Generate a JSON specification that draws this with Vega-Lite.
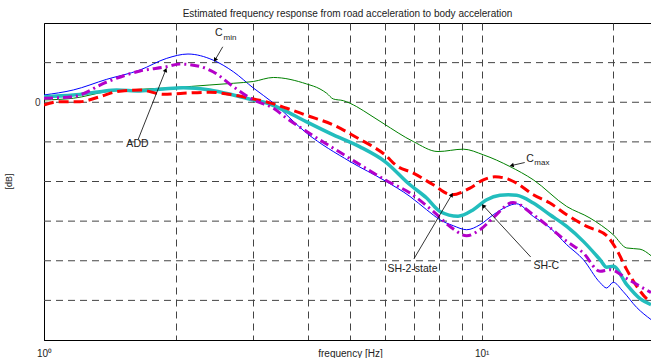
{
  "$schema": "https://vega.github.io/schema/vega-lite/v6.json",
  "width": 607,
  "height": 317,
  "autosize": {"type": "none"},
  "padding": {"left": 44, "top": 23, "right": 0, "bottom": 18},
  "background": "white",
  "config": {
    "view": {"stroke": "black", "strokeWidth": 1},
    "font": "Liberation Sans",
    "axis": {"labelFont": "Liberation Sans", "titleFont": "Liberation Sans"}
  },
  "title": {
    "text": "Estimated frequency response from road acceleration to body acceleration",
    "fontSize": 10,
    "fontWeight": "normal",
    "font": "Liberation Sans",
    "color": "#222222",
    "baseline": "bottom",
    "offset": 5,
    "dy": 11
  },
  "datasets": {
    "curves": [
      {"s": "Cmin", "f": 1.000, "db": 1.84},
      {"s": "Cmin", "f": 1.167, "db": 3.10},
      {"s": "Cmin", "f": 1.391, "db": 5.79},
      {"s": "Cmin", "f": 1.657, "db": 8.14},
      {"s": "Cmin", "f": 1.907, "db": 11.08},
      {"s": "Cmin", "f": 2.133, "db": 12.17},
      {"s": "Cmin", "f": 2.433, "db": 10.65},
      {"s": "Cmin", "f": 2.707, "db": 7.71},
      {"s": "Cmin", "f": 3.008, "db": 3.60},
      {"s": "Cmin", "f": 3.342, "db": -0.18},
      {"s": "Cmin", "f": 3.983, "db": -7.81},
      {"s": "Cmin", "f": 5.002, "db": -14.96},
      {"s": "Cmin", "f": 6.013, "db": -19.82},
      {"s": "Cmin", "f": 6.859, "db": -23.78},
      {"s": "Cmin", "f": 7.486, "db": -27.13},
      {"s": "Cmin", "f": 8.030, "db": -29.65},
      {"s": "Cmin", "f": 8.613, "db": -31.16},
      {"s": "Cmin", "f": 9.241, "db": -32.17},
      {"s": "Cmin", "f": 9.911, "db": -30.91},
      {"s": "Cmin", "f": 10.63, "db": -28.39},
      {"s": "Cmin", "f": 11.40, "db": -26.37},
      {"s": "Cmin", "f": 12.02, "db": -25.62},
      {"s": "Cmin", "f": 13.12, "db": -28.82},
      {"s": "Cmin", "f": 14.32, "db": -31.66},
      {"s": "Cmin", "f": 15.64, "db": -35.94},
      {"s": "Cmin", "f": 17.07, "db": -39.72},
      {"s": "Cmin", "f": 18.64, "db": -45.52},
      {"s": "Cmin", "f": 19.30, "db": -46.88},
      {"s": "Cmin", "f": 19.98, "db": -45.44},
      {"s": "Cmin", "f": 21.03, "db": -47.71},
      {"s": "Cmin", "f": 22.61, "db": -51.81},
      {"s": "Cmin", "f": 24.37, "db": -54.84},
      {"s": "Cmax", "f": 1.000, "db": 0.58},
      {"s": "Cmax", "f": 1.167, "db": 1.01},
      {"s": "Cmax", "f": 1.391, "db": 2.67},
      {"s": "Cmax", "f": 1.657, "db": 3.27},
      {"s": "Cmax", "f": 1.971, "db": 3.68},
      {"s": "Cmax", "f": 2.394, "db": 4.36},
      {"s": "Cmax", "f": 2.707, "db": 4.79},
      {"s": "Cmax", "f": 3.008, "db": 5.24},
      {"s": "Cmax", "f": 3.342, "db": 6.25},
      {"s": "Cmax", "f": 3.983, "db": 4.61},
      {"s": "Cmax", "f": 4.272, "db": 3.35},
      {"s": "Cmax", "f": 4.425, "db": 2.27},
      {"s": "Cmax", "f": 4.581, "db": 0.83},
      {"s": "Cmax", "f": 4.829, "db": 0.40},
      {"s": "Cmax", "f": 5.181, "db": -1.11},
      {"s": "Cmax", "f": 5.557, "db": -3.20},
      {"s": "Cmax", "f": 5.950, "db": -5.29},
      {"s": "Cmax", "f": 6.980, "db": -9.92},
      {"s": "Cmax", "f": 7.946, "db": -12.44},
      {"s": "Cmax", "f": 9.078, "db": -11.84},
      {"s": "Cmax", "f": 10.09, "db": -13.27},
      {"s": "Cmax", "f": 11.60, "db": -16.22},
      {"s": "Cmax", "f": 13.12, "db": -19.57},
      {"s": "Cmax", "f": 15.64, "db": -26.30},
      {"s": "Cmax", "f": 17.68, "db": -29.22},
      {"s": "Cmax", "f": 19.98, "db": -33.43},
      {"s": "Cmax", "f": 21.45, "db": -36.78},
      {"s": "Cmax", "f": 23.00, "db": -37.08},
      {"s": "Cmax", "f": 24.37, "db": -38.72},
      {"s": "SH-C", "f": 1.000, "db": 1.41},
      {"s": "SH-C", "f": 1.167, "db": 1.84},
      {"s": "SH-C", "f": 1.342, "db": 2.67},
      {"s": "SH-C", "f": 1.466, "db": 3.10},
      {"s": "SH-C", "f": 1.657, "db": 2.85},
      {"s": "SH-C", "f": 1.873, "db": 3.35},
      {"s": "SH-C", "f": 2.081, "db": 3.68},
      {"s": "SH-C", "f": 2.394, "db": 3.10},
      {"s": "SH-C", "f": 2.707, "db": 1.84},
      {"s": "SH-C", "f": 3.008, "db": 0.58},
      {"s": "SH-C", "f": 3.228, "db": -0.18},
      {"s": "SH-C", "f": 3.585, "db": -2.37},
      {"s": "SH-C", "f": 3.983, "db": -4.96},
      {"s": "SH-C", "f": 4.581, "db": -8.24},
      {"s": "SH-C", "f": 5.272, "db": -11.26},
      {"s": "SH-C", "f": 6.013, "db": -14.96},
      {"s": "SH-C", "f": 6.859, "db": -20.83},
      {"s": "SH-C", "f": 7.486, "db": -24.18},
      {"s": "SH-C", "f": 8.030, "db": -27.56},
      {"s": "SH-C", "f": 8.830, "db": -28.77},
      {"s": "SH-C", "f": 9.568, "db": -27.13},
      {"s": "SH-C", "f": 10.27, "db": -24.61},
      {"s": "SH-C", "f": 11.01, "db": -23.48},
      {"s": "SH-C", "f": 11.50, "db": -23.35},
      {"s": "SH-C", "f": 12.02, "db": -23.48},
      {"s": "SH-C", "f": 13.12, "db": -25.44},
      {"s": "SH-C", "f": 14.32, "db": -28.39},
      {"s": "SH-C", "f": 15.64, "db": -31.34},
      {"s": "SH-C", "f": 17.07, "db": -35.11},
      {"s": "SH-C", "f": 18.64, "db": -39.72},
      {"s": "SH-C", "f": 19.30, "db": -41.61},
      {"s": "SH-C", "f": 19.98, "db": -41.41},
      {"s": "SH-C", "f": 21.45, "db": -46.02},
      {"s": "SH-C", "f": 23.00, "db": -49.55},
      {"s": "SH-C", "f": 24.37, "db": -51.06},
      {"s": "SH-2-state", "f": 1.000, "db": -0.68},
      {"s": "SH-2-state", "f": 1.088, "db": 0.15},
      {"s": "SH-2-state", "f": 1.208, "db": 0.15},
      {"s": "SH-2-state", "f": 1.342, "db": 1.41},
      {"s": "SH-2-state", "f": 1.466, "db": 2.67},
      {"s": "SH-2-state", "f": 1.657, "db": 3.10},
      {"s": "SH-2-state", "f": 1.873, "db": 2.02},
      {"s": "SH-2-state", "f": 2.081, "db": 2.27},
      {"s": "SH-2-state", "f": 2.394, "db": 2.52},
      {"s": "SH-2-state", "f": 2.707, "db": 1.84},
      {"s": "SH-2-state", "f": 3.008, "db": 0.83},
      {"s": "SH-2-state", "f": 3.228, "db": 0.08},
      {"s": "SH-2-state", "f": 3.585, "db": -1.51},
      {"s": "SH-2-state", "f": 3.983, "db": -3.32},
      {"s": "SH-2-state", "f": 4.581, "db": -5.72},
      {"s": "SH-2-state", "f": 5.272, "db": -9.37},
      {"s": "SH-2-state", "f": 5.557, "db": -10.76},
      {"s": "SH-2-state", "f": 6.013, "db": -13.27},
      {"s": "SH-2-state", "f": 6.395, "db": -16.05},
      {"s": "SH-2-state", "f": 6.980, "db": -17.88},
      {"s": "SH-2-state", "f": 7.751, "db": -20.83},
      {"s": "SH-2-state", "f": 8.542, "db": -23.35},
      {"s": "SH-2-state", "f": 9.403, "db": -21.66},
      {"s": "SH-2-state", "f": 10.09, "db": -19.57},
      {"s": "SH-2-state", "f": 10.72, "db": -18.82},
      {"s": "SH-2-state", "f": 11.60, "db": -19.57},
      {"s": "SH-2-state", "f": 12.02, "db": -20.40},
      {"s": "SH-2-state", "f": 13.12, "db": -23.35},
      {"s": "SH-2-state", "f": 14.32, "db": -25.44},
      {"s": "SH-2-state", "f": 15.64, "db": -28.39},
      {"s": "SH-2-state", "f": 17.38, "db": -31.34},
      {"s": "SH-2-state", "f": 19.30, "db": -33.68},
      {"s": "SH-2-state", "f": 20.34, "db": -37.20},
      {"s": "SH-2-state", "f": 21.45, "db": -42.24},
      {"s": "SH-2-state", "f": 22.61, "db": -46.45},
      {"s": "SH-2-state", "f": 23.82, "db": -49.55},
      {"s": "SH-2-state", "f": 24.37, "db": -50.30},
      {"s": "ADD", "f": 1.000, "db": 1.01},
      {"s": "ADD", "f": 1.167, "db": 1.41},
      {"s": "ADD", "f": 1.391, "db": 5.11},
      {"s": "ADD", "f": 1.657, "db": 7.88},
      {"s": "ADD", "f": 1.907, "db": 8.97},
      {"s": "ADD", "f": 2.045, "db": 9.65},
      {"s": "ADD", "f": 2.273, "db": 9.02},
      {"s": "ADD", "f": 2.433, "db": 7.71},
      {"s": "ADD", "f": 2.707, "db": 3.93},
      {"s": "ADD", "f": 3.008, "db": 0.58},
      {"s": "ADD", "f": 3.342, "db": -1.51},
      {"s": "ADD", "f": 3.585, "db": -4.03},
      {"s": "ADD", "f": 3.983, "db": -7.41},
      {"s": "ADD", "f": 4.581, "db": -11.59},
      {"s": "ADD", "f": 5.461, "db": -16.80},
      {"s": "ADD", "f": 6.013, "db": -19.57},
      {"s": "ADD", "f": 6.859, "db": -22.92},
      {"s": "ADD", "f": 7.751, "db": -27.56},
      {"s": "ADD", "f": 8.465, "db": -31.34},
      {"s": "ADD", "f": 9.241, "db": -33.68},
      {"s": "ADD", "f": 9.911, "db": -32.17},
      {"s": "ADD", "f": 10.63, "db": -29.14},
      {"s": "ADD", "f": 11.79, "db": -25.29},
      {"s": "ADD", "f": 13.12, "db": -28.39},
      {"s": "ADD", "f": 14.32, "db": -31.66},
      {"s": "ADD", "f": 15.64, "db": -35.11},
      {"s": "ADD", "f": 17.07, "db": -38.04},
      {"s": "ADD", "f": 18.64, "db": -42.67},
      {"s": "ADD", "f": 19.64, "db": -42.24},
      {"s": "ADD", "f": 21.45, "db": -44.50},
      {"s": "ADD", "f": 23.00, "db": -46.45},
      {"s": "ADD", "f": 24.37, "db": -48.03}
    ],
    "hgrid": [
      {"db": -50}, {"db": -40}, {"db": -30}, {"db": -20}, {"db": -10}, {"db": 0}, {"db": 10}
    ],
    "labels": [
      {"t": "C", "f": 2.507, "db": 17.46},
      {"t": "ADD", "f": 1.635, "db": -10.55},
      {"t": "C", "f": 12.89, "db": -14.23},
      {"t": "SH-2-state", "f": 6.95, "db": -42.2},
      {"t": "SH-C", "f": 14.05, "db": -41.31}
    ],
    "subs": [
      {"t": "min", "f": 2.66, "db": 16.2},
      {"t": "max", "f": 13.73, "db": -15.37}
    ],
    "arrows": [
      {"f1": 2.561, "db1": 14.0, "f2": 2.459, "db2": 10.65, "ang": 210},
      {"f1": 1.642, "db1": -9.32, "f2": 1.897, "db2": 8.14, "ang": 21.6},
      {"f1": 12.54, "db1": -15.21, "f2": 11.71, "db2": -15.97, "ang": 257.3},
      {"f1": 7.003, "db1": -39.5, "f2": 8.542, "db2": -23.35, "ang": 30.1},
      {"f1": 12.94, "db1": -39.04, "f2": 10.09, "db2": -26.12, "ang": 317.3}
    ]
  },
  "layer": [
    {
      "data": {"name": "hgrid"},
      "mark": {"type": "rule", "color": "#444444", "strokeWidth": 1, "strokeDash": [7, 5]},
      "encoding": {
        "y": {
          "field": "db", "type": "quantitative",
          "scale": {"domain": [-60, 20], "nice": false, "zero": false},
          "axis": {
            "values": [0],
            "grid": false,
            "ticks": false,
            "domain": true, "domainColor": "black",
            "labelExpr": "datum.value == 0 ? '0' : ''",
            "labelFontSize": 10, "labelColor": "#333333", "labelPadding": 4,
            "title": "[dB]", "titleFontSize": 9, "titleFontWeight": "normal",
            "titleColor": "#222222", "titleX": -31, "titleY": 158
          }
        }
      }
    },
    {
      "data": {"name": "curves"},
      "transform": [{"filter": "datum.s == 'Cmin'"}],
      "mark": {"type": "line", "interpolate": "monotone", "clip": true, "color": "#0000FF", "strokeWidth": 1},
      "encoding": {
        "x": {
          "field": "f", "type": "quantitative",
          "scale": {"type": "log", "domain": [1, 24.37], "nice": false},
          "axis": {
            "values": [1, 2, 3, 4, 5, 6, 7, 8, 9, 10, 20],
            "grid": true, "gridDash": [7, 5], "gridColor": "#444444", "gridWidth": 1, "gridOpacity": 1,
            "ticks": false,
            "domain": true, "domainColor": "black",
            "labelExpr": "datum.value == 1 ? '10⁰' : (datum.value == 10 ? '10¹' : '')",
            "labelFontSize": 10, "labelColor": "#222222", "labelPadding": 8,
            "labelFlush": false, "labelOverlap": false,
            "title": "frequency [Hz]", "titleFontSize": 10, "titleFontWeight": "normal",
            "titleColor": "#222222", "titleBaseline": "top", "titleY": 8, "titleX": 306
          }
        },
        "y": {"field": "db", "type": "quantitative"}
      }
    },
    {
      "data": {"name": "curves"},
      "transform": [{"filter": "datum.s == 'Cmax'"}],
      "mark": {"type": "line", "interpolate": "monotone", "clip": true, "color": "#008000", "strokeWidth": 1},
      "encoding": {
        "x": {"field": "f", "type": "quantitative"},
        "y": {"field": "db", "type": "quantitative"}
      }
    },
    {
      "data": {"name": "curves"},
      "transform": [{"filter": "datum.s == 'SH-C'"}],
      "mark": {"type": "line", "interpolate": "monotone", "clip": true, "color": "#22BDBD", "strokeWidth": 3.5},
      "encoding": {
        "x": {"field": "f", "type": "quantitative"},
        "y": {"field": "db", "type": "quantitative"}
      }
    },
    {
      "data": {"name": "curves"},
      "transform": [{"filter": "datum.s == 'SH-2-state'"}],
      "mark": {"type": "line", "interpolate": "monotone", "clip": true, "color": "#FF0000", "strokeWidth": 3, "strokeDash": [10, 5]},
      "encoding": {
        "x": {"field": "f", "type": "quantitative"},
        "y": {"field": "db", "type": "quantitative"}
      }
    },
    {
      "data": {"name": "curves"},
      "transform": [{"filter": "datum.s == 'ADD'"}],
      "mark": {"type": "line", "interpolate": "monotone", "clip": true, "color": "#B400C8", "strokeWidth": 3, "strokeDash": [9, 4, 2, 4]},
      "encoding": {
        "x": {"field": "f", "type": "quantitative"},
        "y": {"field": "db", "type": "quantitative"}
      }
    },
    {
      "data": {"name": "arrows"},
      "mark": {"type": "rule", "color": "black", "strokeWidth": 0.8},
      "encoding": {
        "x": {"field": "f1", "type": "quantitative"},
        "y": {"field": "db1", "type": "quantitative"},
        "x2": {"field": "f2"},
        "y2": {"field": "db2"}
      }
    },
    {
      "data": {"name": "arrows"},
      "mark": {"type": "point", "shape": "triangle-up", "filled": true, "color": "black", "size": 22, "opacity": 1},
      "encoding": {
        "x": {"field": "f2", "type": "quantitative"},
        "y": {"field": "db2", "type": "quantitative"},
        "angle": {"field": "ang", "type": "quantitative", "scale": null}
      }
    },
    {
      "data": {"name": "labels"},
      "mark": {"type": "text", "fontSize": 10.5, "color": "#222222", "align": "center", "baseline": "middle", "font": "Liberation Sans"},
      "encoding": {
        "x": {"field": "f", "type": "quantitative"},
        "y": {"field": "db", "type": "quantitative"},
        "text": {"field": "t"}
      }
    },
    {
      "data": {"name": "subs"},
      "mark": {"type": "text", "fontSize": 8, "color": "#222222", "align": "center", "baseline": "middle", "font": "Liberation Sans"},
      "encoding": {
        "x": {"field": "f", "type": "quantitative"},
        "y": {"field": "db", "type": "quantitative"},
        "text": {"field": "t"}
      }
    }
  ]
}
